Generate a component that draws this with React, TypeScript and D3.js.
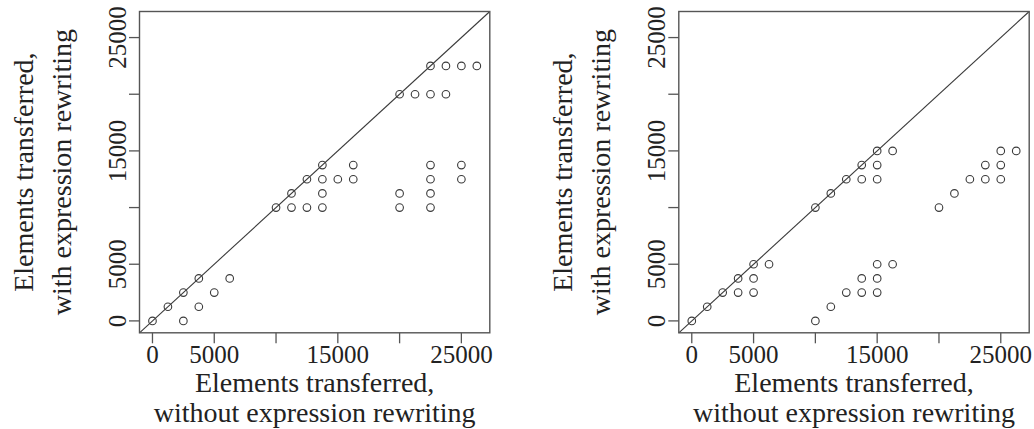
import React from "react";
import * as d3 from "d3";

// Left panel data
const leftX = [0, 1250, 2500, 2500, 3750, 3750, 5000, 6250,
  10000, 11250, 12500, 13750, 20000, 22500,
  11250, 13750, 20000, 22500,
  12500, 13750, 15000, 16250, 22500, 25000,
  13750, 16250, 22500, 25000,
  20000, 21250, 22500, 23750,
  22500, 23750, 25000, 26250];
const leftY = [0, 1250, 2500, 0, 3750, 1250, 2500, 3750,
  10000, 10000, 10000, 10000, 10000, 10000,
  11250, 11250, 11250, 11250,
  12500, 12500, 12500, 12500, 12500, 12500,
  13750, 13750, 13750, 13750,
  20000, 20000, 20000, 20000,
  22500, 22500, 22500, 22500];

// Right panel data
const rightX = [0, 1250, 2500, 3750, 3750, 5000, 5000, 5000, 6250,
  10000, 11250, 12500, 13750, 15000, 13750, 15000, 15000, 16250,
  10000, 11250, 12500, 13750, 15000, 13750, 15000, 15000, 16250,
  20000, 21250, 22500, 23750, 25000, 23750, 25000, 25000, 26250];
const rightY = [0, 1250, 2500, 2500, 3750, 2500, 3750, 5000, 5000,
  10000, 11250, 12500, 12500, 12500, 13750, 13750, 15000, 15000,
  0, 1250, 2500, 2500, 2500, 3750, 3750, 5000, 5000,
  10000, 11250, 12500, 12500, 12500, 13750, 13750, 15000, 15000];

const ticks = [0, 5000, 10000, 15000, 20000, 25000];
const tickLabels = ["0", "5000", "", "15000", "", "25000"];
const xTitle = ["Elements transferred,", "without expression rewriting"];
const yTitle = ["Elements transferred,", "with expression rewriting"];

const DOMAIN: [number, number] = [-1050, 27300];
const FONT = "'Liberation Serif', 'Times New Roman', serif";
const INK = "#3a3a3a";

function Panel({ xs, ys, left, right }: { xs: number[]; ys: number[]; left: number; right: number }) {
  const top = 11.5;
  const bottom = 332.8;
  const x = d3.scaleLinear().domain(DOMAIN).range([left, right]);
  const y = d3.scaleLinear().domain(DOMAIN).range([bottom, top]);
  const tl = 10.5;
  const cx = (left + right) / 2;
  const cy = (top + bottom) / 2;
  return (
    <g>
      <line x1={x(DOMAIN[0])} y1={y(DOMAIN[0])} x2={x(DOMAIN[1])} y2={y(DOMAIN[1])} stroke={INK} strokeWidth={1.1} />
      {xs.map((v, i) => (
        <circle key={i} cx={x(v)} cy={y(ys[i])} r={3.8} fill="none" stroke={INK} strokeWidth={1.1} />
      ))}
      <rect x={left} y={top} width={right - left} height={bottom - top} fill="none" stroke="#555" strokeWidth={1.4} />
      {ticks.map((t, i) => (
        <g key={"x" + t}>
          <line x1={x(t)} x2={x(t)} y1={bottom} y2={bottom + tl} stroke="#555" strokeWidth={1.3} />
          {tickLabels[i] && (
            <text x={x(t)} y={363} textAnchor="middle" fontFamily={FONT} fontSize={25} fill="#222">{tickLabels[i]}</text>
          )}
        </g>
      ))}
      {ticks.map((t, i) => (
        <g key={"y" + t}>
          <line x1={left} x2={left - tl} y1={y(t)} y2={y(t)} stroke="#555" strokeWidth={1.3} />
          {tickLabels[i] && (
            <text transform={`translate(${left - 14},${y(t)}) rotate(-90)`} textAnchor="middle" fontFamily={FONT} fontSize={25} fill="#222">{tickLabels[i]}</text>
          )}
        </g>
      ))}
      {xTitle.map((s, i) => (
        <text key={"xt" + i} x={cx} y={392 + i * 30} textAnchor="middle" fontFamily={FONT} fontSize={28} fill="#222">{s}</text>
      ))}
      {yTitle.map((s, i) => (
        <text key={"yt" + i} transform={`translate(${left - 107 + i * 38},${cy}) rotate(-90)`} textAnchor="middle" fontFamily={FONT} fontSize={28} fill="#222">{s}</text>
      ))}
    </g>
  );
}

export default function App() {
  return (
    <svg width={1034} height={429} style={{ position: "absolute", left: 0, top: 0, background: "#fff" }}>
      <Panel xs={leftX} ys={leftY} left={139.5} right={489.8} />
      <Panel xs={rightX} ys={rightY} left={678.8} right={1029.2} />
    </svg>
  );
}
